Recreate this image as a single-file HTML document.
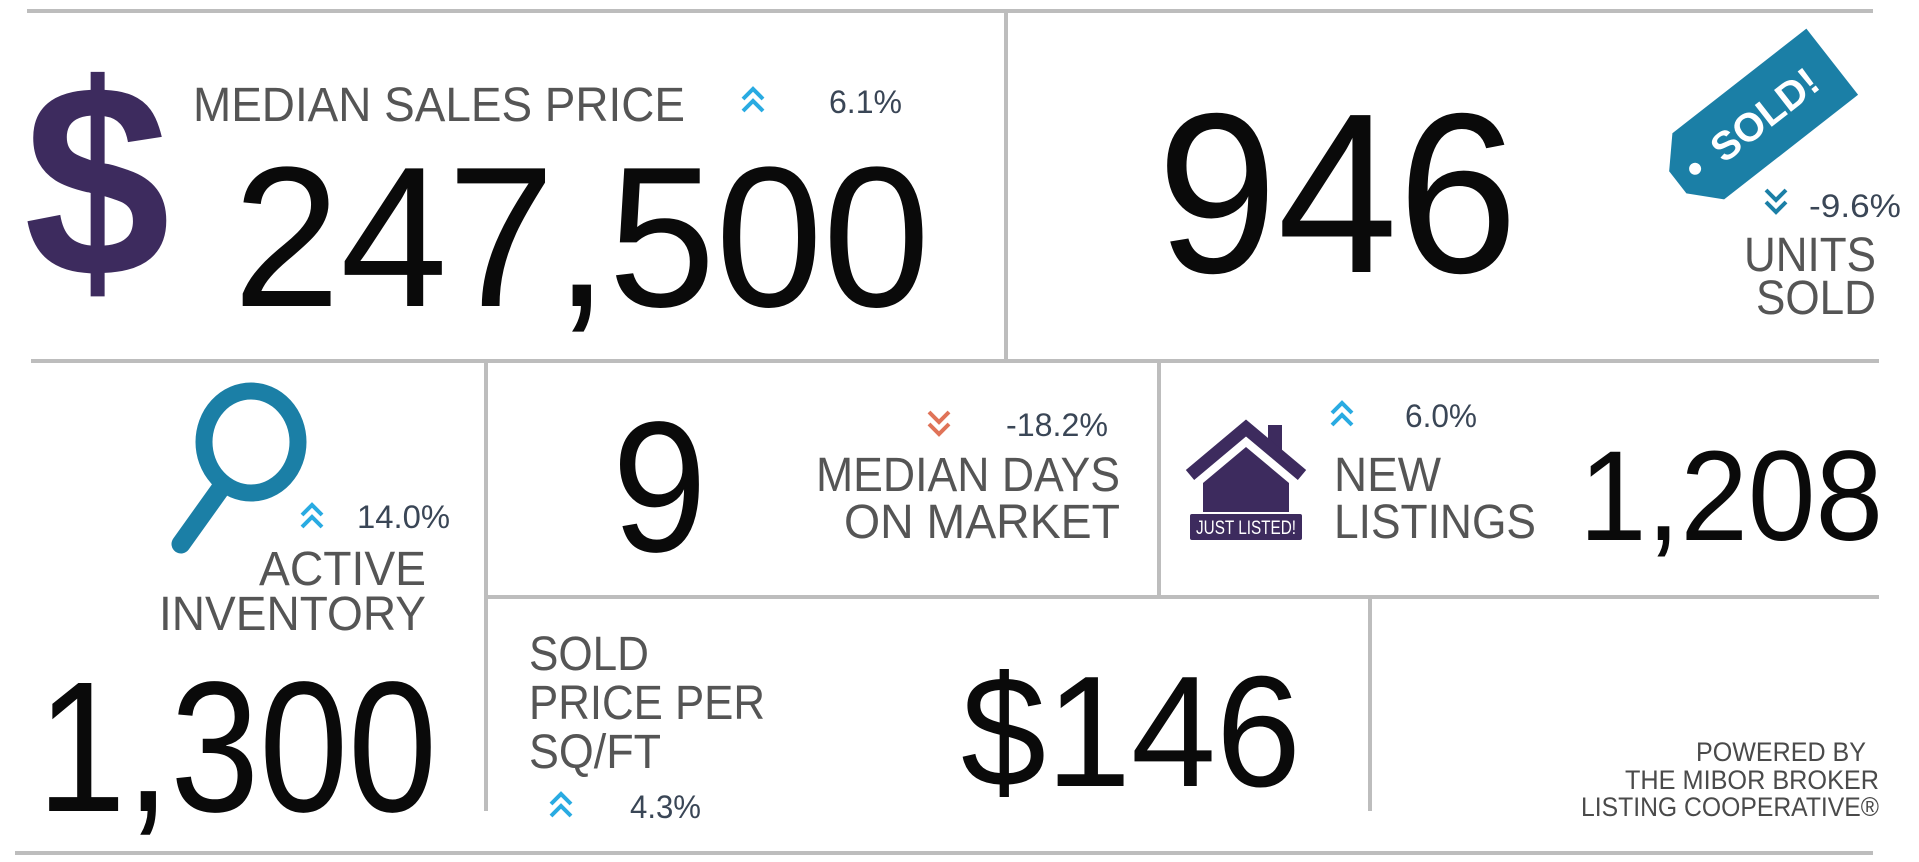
<!DOCTYPE html>
<html><head><meta charset="utf-8"><style>
html,body{margin:0;padding:0;background:#fff;}
svg{display:block;}
text{font-family:"Liberation Sans",sans-serif;}
.lbl{fill:#555;font-size:48px;}
.pct{fill:#3a4656;font-size:32px;}
.big{fill:#0a0a0a;}
</style></head><body>
<svg width="1919" height="862" viewBox="0 0 1919 862">
<defs>
<g id="chev-up"><polyline points="0,12 10,2 20,12" fill="none" stroke="#29abe2" stroke-width="4"/><polyline points="0,24 10,14 20,24" fill="none" stroke="#29abe2" stroke-width="4"/></g>
</defs>
<g stroke="#bdbdbd" stroke-width="4">
<line x1="27" y1="11" x2="1873" y2="11"/>
<line x1="1006" y1="12" x2="1006" y2="359"/>
<line x1="31" y1="361" x2="1879" y2="361"/>
<line x1="486" y1="361" x2="486" y2="811"/>
<line x1="1159" y1="361" x2="1159" y2="596"/>
<line x1="486" y1="597" x2="1879" y2="597"/>
<line x1="1370" y1="597" x2="1370" y2="811"/>
<line x1="15" y1="853" x2="1873" y2="853"/>
</g>

<g>
<text x="24" y="276" font-size="275" font-weight="bold" fill="#3d2b5e" textLength="146" lengthAdjust="spacingAndGlyphs">$</text>
<text class="lbl" x="193" y="121" textLength="492" lengthAdjust="spacingAndGlyphs">MEDIAN SALES PRICE</text>
<use href="#chev-up" x="743" y="87"/>
<text class="pct" x="829" y="113" textLength="73" lengthAdjust="spacingAndGlyphs">6.1%</text>
<text class="big" x="233" y="306" font-size="200" textLength="697" lengthAdjust="spacingAndGlyphs">247,500</text>
</g>

<g>
<text class="big" x="1157" y="272" font-size="228" textLength="361" lengthAdjust="spacingAndGlyphs">946</text>
<g transform="translate(1755,122) rotate(-38)">
<polygon points="-98,-14 -72,-42 98,-42 98,42 -72,42 -98,14" fill="#1b7fa6"/>
<circle cx="-76" cy="0" r="6" fill="#fff"/>
<text x="12" y="14" font-size="40" font-weight="bold" fill="#fff" text-anchor="middle">SOLD!</text>
</g>
<g transform="translate(1766,214) scale(1,-1)"><polyline points="0,12 10,2 20,12" fill="none" stroke="#1b7fa6" stroke-width="4"/><polyline points="0,24 10,14 20,24" fill="none" stroke="#1b7fa6" stroke-width="4"/></g>
<text class="pct" x="1809" y="217" textLength="92" lengthAdjust="spacingAndGlyphs">-9.6%</text>
<text class="lbl" x="1876" y="271" text-anchor="end" textLength="132" lengthAdjust="spacingAndGlyphs">UNITS</text>
<text class="lbl" x="1876" y="314" text-anchor="end" textLength="120" lengthAdjust="spacingAndGlyphs">SOLD</text>
</g>

<g>
<g>
<ellipse cx="251" cy="442" rx="47" ry="51" fill="none" stroke="#1b7fa6" stroke-width="17"/>
<line x1="221" y1="488" x2="181" y2="544" stroke="#1b7fa6" stroke-width="19" stroke-linecap="round"/>
</g>
<use href="#chev-up" x="302" y="503"/>
<text class="pct" x="357" y="528" textLength="93" lengthAdjust="spacingAndGlyphs">14.0%</text>
<text class="lbl" x="426" y="585" text-anchor="end" textLength="167" lengthAdjust="spacingAndGlyphs">ACTIVE</text>
<text class="lbl" x="426" y="630" text-anchor="end" textLength="267" lengthAdjust="spacingAndGlyphs">INVENTORY</text>
<text class="big" x="37" y="811" font-size="186" textLength="400" lengthAdjust="spacingAndGlyphs">1,300</text>
</g>

<g>
<text class="big" x="612" y="551" font-size="186" textLength="95" lengthAdjust="spacingAndGlyphs">9</text>
<g transform="translate(929,436) scale(1,-1)"><polyline points="0,12 10,2 20,12" fill="none" stroke="#e07358" stroke-width="4"/><polyline points="0,24 10,14 20,24" fill="none" stroke="#e07358" stroke-width="4"/></g>
<text class="pct" x="1006" y="436" textLength="102" lengthAdjust="spacingAndGlyphs">-18.2%</text>
<text class="lbl" x="1120" y="491" text-anchor="end" textLength="304" lengthAdjust="spacingAndGlyphs">MEDIAN DAYS</text>
<text class="lbl" x="1120" y="538" text-anchor="end" textLength="276" lengthAdjust="spacingAndGlyphs">ON MARKET</text>
</g>

<g>
<g fill="#3d2b5e">
<rect x="1268" y="425" width="14" height="28"/>
<polyline points="1190,475 1246,428 1302,475" fill="none" stroke="#3d2b5e" stroke-width="13" stroke-linejoin="miter"/>
<polygon points="1203,483 1246,447 1289,483 1289,512 1203,512"/>
<rect x="1190" y="514" width="112" height="26" rx="2"/>
<text x="1246" y="534" font-size="19" fill="#fff" text-anchor="middle" textLength="100" lengthAdjust="spacingAndGlyphs">JUST LISTED!</text>
</g>
<use href="#chev-up" x="1332" y="401"/>
<text class="pct" x="1405" y="427" textLength="72" lengthAdjust="spacingAndGlyphs">6.0%</text>
<text class="lbl" x="1334" y="491" textLength="107" lengthAdjust="spacingAndGlyphs">NEW</text>
<text class="lbl" x="1334" y="538" textLength="202" lengthAdjust="spacingAndGlyphs">LISTINGS</text>
<text class="big" x="1579" y="540" font-size="128" textLength="304" lengthAdjust="spacingAndGlyphs">1,208</text>
</g>

<g>
<text class="lbl" x="529" y="670" textLength="120" lengthAdjust="spacingAndGlyphs">SOLD</text>
<text class="lbl" x="529" y="719" textLength="236" lengthAdjust="spacingAndGlyphs">PRICE PER</text>
<text class="lbl" x="529" y="768" textLength="132" lengthAdjust="spacingAndGlyphs">SQ/FT</text>
<use href="#chev-up" x="551" y="792"/>
<text class="pct" x="630" y="818" textLength="71" lengthAdjust="spacingAndGlyphs">4.3%</text>
<text class="big" x="961" y="786" font-size="158" textLength="340" lengthAdjust="spacingAndGlyphs">$146</text>
</g>

<g fill="#4a4a4a" font-size="27">
<text x="1866" y="761" text-anchor="end" textLength="170" lengthAdjust="spacingAndGlyphs">POWERED BY</text>
<text x="1879" y="789" text-anchor="end" textLength="254" lengthAdjust="spacingAndGlyphs">THE MIBOR BROKER</text>
<text x="1879" y="816" text-anchor="end" textLength="298" lengthAdjust="spacingAndGlyphs">LISTING COOPERATIVE®</text>
</g>
</svg>
</body></html>
